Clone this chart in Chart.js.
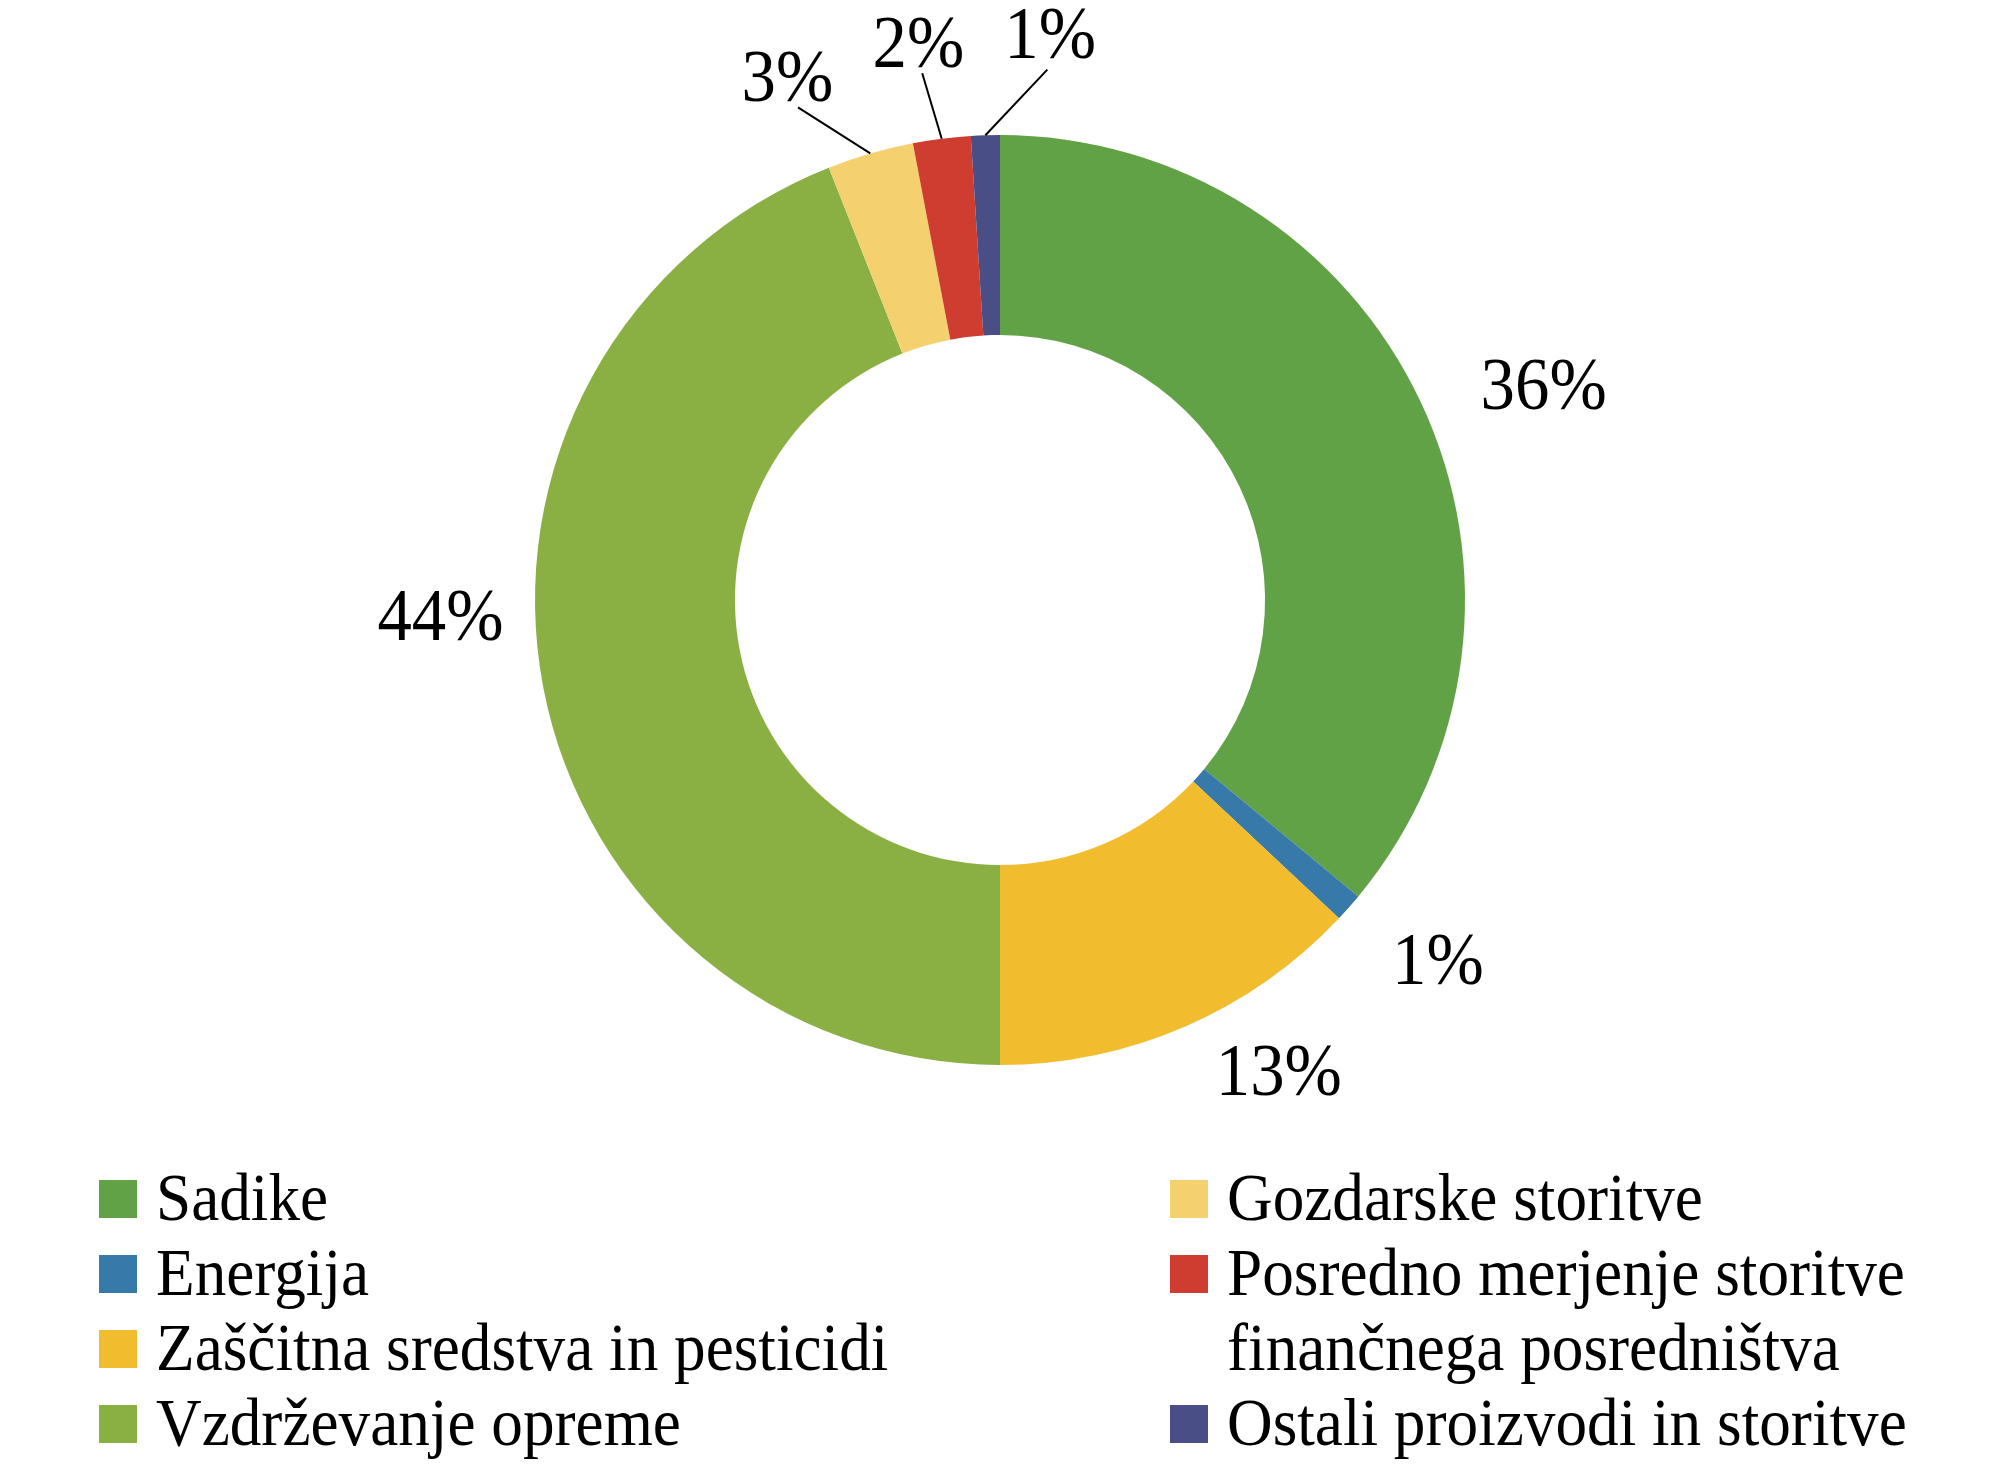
<!DOCTYPE html>
<html>
<head>
<meta charset="utf-8">
<script src="https://cdn.jsdelivr.net/npm/chart.js@4/dist/chart.umd.min.js"></script>
<style>
  html, body { margin: 0; padding: 0; background: #fff; }
  #wrap { width: 2000px; height: 1474px; }
</style>
</head>
<body>
<div id="wrap"><canvas id="canvas-cost"></canvas></div>
<script>
// cost structure, shares in %
const labels = [
  'Sadike',
  'Energija',
  'Zaščitna sredstva in pesticidi',
  'Vzdrževanje opreme',
  'Gozdarske storitve',
  ['Posredno merjenje storitve', 'finančnega posredništva'],
  'Ostali proizvodi in storitve',
];
const shares = [36, 1, 13, 44, 3, 2, 1];
const colors = ['#62a246', '#3779a8', '#f1bd2e', '#8aaf43', '#f4d06f', '#cf3c30', '#4a4e86'];

// where each value label sits: radius as multiple of outer radius, angle shift in degrees
const labelPlacement = [
  { r: 1.254, shift: 4 },
  { r: 1.226, shift: -1.6 },
  { r: 1.185, shift: -7 },
  { r: 1.204, shift: 8.7 },
  { r: 1.205, shift: -6.1, leader: true },
  { r: 1.2, shift: -1.2, leader: true },
  { r: 1.213, shift: 6.9, leader: true },
];

const FONT = '"Liberation Serif", "DejaVu Serif", serif';
const SQUEEZE = 0.93;

function squeezedText(ctx, text, x, y) {
  ctx.save();
  ctx.translate(x, y);
  ctx.scale(SQUEEZE, 1);
  ctx.fillText(text, 0, 0);
  ctx.restore();
}

const valueLabels = {
  id: 'valueLabels',
  afterDatasetsDraw(chart) {
    const ctx = chart.ctx;
    const arcs = chart.getDatasetMeta(0).data;
    ctx.save();
    ctx.font = '74px ' + FONT;
    ctx.fillStyle = '#000';
    ctx.strokeStyle = '#000';
    ctx.lineWidth = 2;
    ctx.textAlign = 'center';
    ctx.textBaseline = 'middle';
    arcs.forEach((arc, i) => {
      const p = arc.getProps(['x', 'y', 'startAngle', 'endAngle', 'outerRadius'], true);
      const mid = (p.startAngle + p.endAngle) / 2;
      const place = labelPlacement[i];
      const a = mid + place.shift * Math.PI / 180;
      const lx = p.x + Math.cos(a) * p.outerRadius * place.r;
      const ly = p.y + Math.sin(a) * p.outerRadius * place.r;
      if (place.leader) {
        ctx.beginPath();
        ctx.moveTo(p.x + Math.cos(mid) * p.outerRadius, p.y + Math.sin(mid) * p.outerRadius);
        ctx.lineTo(p.x + Math.cos(a) * p.outerRadius * 1.145, p.y + Math.sin(a) * p.outerRadius * 1.145);
        ctx.stroke();
      }
      squeezedText(ctx, shares[i] + '%', lx, ly);
    });
    ctx.restore();
  },
};

// two-column legend, left column first
const columnLegend = {
  id: 'columnLegend',
  afterDraw(chart) {
    const ctx = chart.ctx;
    const cols = [
      { x: 99, items: [0, 1, 2, 3] },
      { x: 1170, items: [4, 5, 6] },
    ];
    const top = 1199, lineH = 75, box = 38;
    ctx.save();
    ctx.font = '68px ' + FONT;
    ctx.fillStyle = '#000';
    ctx.textAlign = 'left';
    ctx.textBaseline = 'alphabetic';
    cols.forEach(col => {
      let row = 0;
      col.items.forEach(i => {
        const y = top + row * lineH;
        ctx.fillStyle = colors[i];
        ctx.fillRect(col.x, y - box / 2, box, box);
        ctx.fillStyle = '#000';
        const lines = Array.isArray(labels[i]) ? labels[i] : [labels[i]];
        lines.forEach((line, k) => {
          squeezedText(ctx, line, col.x + 57, y + 21 + k * lineH);
        });
        row += lines.length;
      });
    });
    ctx.restore();
  },
};

function drawCost() {
  const cost = document.getElementById('canvas-cost').getContext('2d');
  new Chart(cost, {
    type: 'doughnut',
    data: {
      labels: labels,
      datasets: [
        {
          data: shares,
          backgroundColor: colors,
          borderWidth: 0,
        },
      ],
    },
    options: {
      responsive: true,
      maintainAspectRatio: false,
      devicePixelRatio: 1,
      animation: false,
      cutout: '57%',
      layout: {
        padding: { top: 135, bottom: 409, left: 0, right: 0 },
      },
      plugins: {
        legend: { display: false },
        tooltip: { enabled: false },
      },
    },
    plugins: [valueLabels, columnLegend],
  });
}

drawCost();
</script>
</body>
</html>
